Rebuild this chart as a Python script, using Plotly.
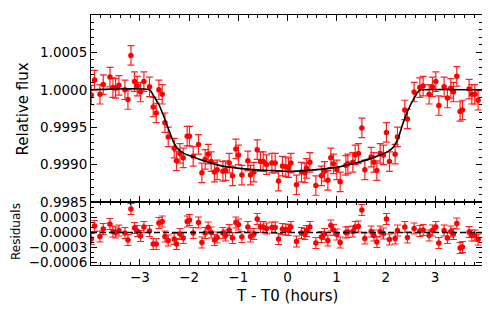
import plotly.graph_objects as go
from plotly.subplots import make_subplots

# ---- data ----
time_hr = [-3.990, -3.923, -3.813, -3.746, -3.610, -3.549, -3.496, -3.427, -3.305, -3.244,
           -3.183, -3.110, -3.055, -2.988, -2.919, -2.805, -2.730, -2.669, -2.614, -2.547,
           -2.492, -2.425, -2.303, -2.256, -2.187, -2.120, -2.039, -1.992, -1.917, -1.809,
           -1.740, -1.673, -1.612, -1.551, -1.484, -1.429, -1.313, -1.260, -1.185, -1.118,
           -1.049, -0.996, -0.927, -0.805, -0.752, -0.683, -0.616, -0.549, -0.494, -0.427,
           -0.317, -0.250, -0.183, -0.102, -0.033, 0.020, 0.069, 0.183, 0.285, 0.354,
           0.386, 0.455, 0.577, 0.691, 0.752, 0.821, 0.882, 0.935, 1.004, 1.071,
           1.187, 1.228, 1.329, 1.376, 1.443, 1.512, 1.573, 1.701, 1.756, 1.817,
           1.884, 1.951, 2.012, 2.073, 2.189, 2.236, 2.386, 2.439, 2.575, 2.691,
           2.758, 2.880, 2.947, 3.016, 3.077, 3.185, 3.252, 3.321, 3.374, 3.443,
           3.510, 3.557, 3.693, 3.748, 3.809, 3.876]

rel_flux = [0.99993, 1.00013, 0.99994, 1.00007, 1.00017, 1.00003, 1.00002, 1.00006, 1.00000, 0.99987,
            1.00046, 1.00011, 1.00005, 0.99997, 1.00011, 1.00004, 0.99977, 0.99969, 1.00000, 0.99994,
            0.99956, 0.99937, 0.99922, 0.99905, 0.99915, 0.99909, 0.99938, 0.99938, 0.99911, 0.99927,
            0.99889, 0.99907, 0.99914, 0.99904, 0.99890, 0.99893, 0.99891, 0.99892, 0.99902, 0.99885,
            0.99921, 0.99913, 0.99886, 0.99905, 0.99886, 0.99890, 0.99920, 0.99904, 0.99904, 0.99900,
            0.99902, 0.99902, 0.99878, 0.99898, 0.99897, 0.99896, 0.99902, 0.99873, 0.99890, 0.99889,
            0.99895, 0.99903, 0.99872, 0.99885, 0.99891, 0.99879, 0.99909, 0.99901, 0.99893, 0.99877,
            0.99899, 0.99901, 0.99903, 0.99913, 0.99915, 0.99949, 0.99893, 0.99910, 0.99903, 0.99892,
            0.99915, 0.99913, 0.99943, 0.99904, 0.99914, 0.99937, 0.99973, 0.99961, 0.99997, 1.00003,
            1.00005, 0.99994, 1.00004, 1.00011, 0.99979, 1.00004, 0.99989, 1.00002, 0.99997, 1.00018,
            0.99971, 0.99973, 1.00001, 0.99994, 0.99994, 0.99986]

residuals = [-0.00013, 0.00013, -0.00008, 0.00007, 0.00017, 0.00002, 0.00000, 0.00004, -0.00001, -0.00015,
             0.00047, 0.00009, 0.00003, -0.00007, 0.00011, 0.00003, -0.00023, -0.00023, 0.00019, 0.00022,
             -0.00008, -0.00016, -0.00013, -0.00023, -0.00003, -0.00011, 0.00022, 0.00025, -0.00001, 0.00020,
             -0.00020, -0.00001, 0.00010, 0.00000, -0.00015, -0.00010, -0.00001, -0.00006, 0.00005, -0.00011,
             0.00020, 0.00016, -0.00009, 0.00011, -0.00008, -0.00003, 0.00027, 0.00011, 0.00011, 0.00008,
             0.00010, 0.00010, -0.00013, 0.00007, 0.00006, 0.00005, 0.00011, -0.00018, -0.00001, -0.00003,
             0.00003, 0.00011, -0.00021, -0.00009, -0.00003, -0.00016, 0.00014, 0.00005, -0.00004, -0.00020,
             0.00000, 0.00001, 0.00002, 0.00011, 0.00012, 0.00045, -0.00012, 0.00002, -0.00006, -0.00019,
             0.00002, -0.00002, 0.00027, -0.00014, -0.00012, 0.00004, 0.00011, -0.00010, 0.00008, 0.00003,
             0.00005, -0.00006, 0.00004, 0.00011, -0.00021, 0.00004, -0.00011, 0.00002, -0.00003, 0.00018,
             -0.00031, -0.00029, 0.00001, -0.00006, -0.00006, -0.00014]

flux_err = 0.00013
resid_err = 0.00011

model_time = [-3.995, -2.805, -2.715, -2.614, -2.512, -2.411, -2.323, -2.242, -2.106, -1.998,
              -1.902, -1.795, -1.598, -1.321, -0.982, -0.642, -0.305, 0.035, 0.374, 0.711,
              1.051, 1.390, 1.728, 1.931, 2.033, 2.134, 2.169, 2.250, 2.337, 2.439,
              2.575, 2.677, 2.711, 3.955]
model_flux = [1.00000, 1.00000, 0.99991, 0.99980, 0.99964, 0.99946, 0.99931, 0.99922, 0.99915, 0.99912,
              0.99910, 0.99907, 0.99903, 0.99898, 0.99895, 0.99893, 0.99892, 0.99891, 0.99892, 0.99894,
              0.99897, 0.99902, 0.99909, 0.99914, 0.99917, 0.99922, 0.99925, 0.99935, 0.99953, 0.99971,
              0.99989, 0.99999, 1.00000, 1.00000]

x_ticks = [-3, -2, -1, 0, 1, 2, 3]
flux_ticks = [0.9985, 0.9990, 0.9995, 1.0000, 1.0005]
resid_ticks = [-0.0006, -0.0003, 0.0000, 0.0003]
x_range = [-3.995, 3.955]

# ---- figure ----
FONT = "DejaVu Sans"
fig = make_subplots(rows=2, cols=1, shared_xaxes=True, vertical_spacing=0,
                    row_heights=[0.748, 0.252])

fig.add_trace(go.Scatter(
    x=time_hr, y=rel_flux, mode="markers",
    marker=dict(color="#ff0000", size=5.5),
    error_y=dict(type="constant", value=flux_err, color="#ff2020", thickness=1.2, width=3.5),
    showlegend=False), row=1, col=1)

fig.add_trace(go.Scatter(
    x=model_time, y=model_flux, mode="lines",
    line=dict(color="black", width=1.6, shape="spline", smoothing=0.5),
    showlegend=False), row=1, col=1)

fig.add_trace(go.Scatter(
    x=time_hr, y=residuals, mode="markers",
    marker=dict(color="#ff0000", size=5.5),
    error_y=dict(type="constant", value=resid_err, color="#ff2020", thickness=1.2, width=3.5),
    showlegend=False), row=2, col=1)

fig.add_trace(go.Scatter(
    x=[x_range[0], x_range[1]], y=[0, 0], mode="lines",
    line=dict(color="black", width=1.5, dash="6px,3px"),
    showlegend=False), row=2, col=1)

axis_common = dict(showline=True, linecolor="black", linewidth=1, mirror="allticks",
                   ticks="inside", ticklen=6, tickwidth=1, tickcolor="black",
                   showgrid=False, zeroline=False, automargin=False,
                   tickfont=dict(family=FONT, size=13.5, color="black"))

fig.update_xaxes(range=x_range, tickmode="array", tickvals=x_ticks,
                 minor=dict(ticks="inside", dtick=0.2, tick0=0, ticklen=3, tickcolor="black"),
                 **axis_common)
fig.update_xaxes(showticklabels=False, row=1, col=1)
fig.update_xaxes(showticklabels=True, row=2, col=1)

fig.update_yaxes(range=[0.9985, 1.001], tickmode="array", tickvals=flux_ticks, tickformat=".4f",
                 minor=dict(ticks="inside", dtick=0.0001, tick0=0.9985, ticklen=3, tickcolor="black"),
                 row=1, col=1, **axis_common)
fig.update_yaxes(range=[-0.00065, 0.00061], tickmode="array", tickvals=resid_ticks, tickformat=".4f",
                 minor=dict(ticks="inside", dtick=0.0001, tick0=0, ticklen=3, tickcolor="black"),
                 row=2, col=1, **axis_common)

fig.add_annotation(text="Relative flux", xref="paper", yref="paper", x=-0.174, y=0.626,
                   textangle=-90, showarrow=False, xanchor="center", yanchor="middle",
                   font=dict(family=FONT, size=15, color="black"))
fig.add_annotation(text="Residuals", xref="paper", yref="paper", x=-0.193, y=0.134,
                   textangle=-90, showarrow=False, xanchor="center", yanchor="middle",
                   font=dict(family=FONT, size=12, color="black"))
fig.add_annotation(text="T - T0 (hours)", xref="paper", yref="paper", x=0.501, y=-0.124,
                   showarrow=False, xanchor="center", yanchor="middle",
                   font=dict(family=FONT, size=15, color="black"))

# The page body adds an 8px offset, so the figure is 8px smaller with shifted margins.
fig.update_layout(width=482, height=304,
                  margin=dict(l=83, r=8, t=7, b=47, autoexpand=False),
                  paper_bgcolor="white", plot_bgcolor="white",
                  font=dict(family=FONT, color="black"))

fig.write_html("out.html")
